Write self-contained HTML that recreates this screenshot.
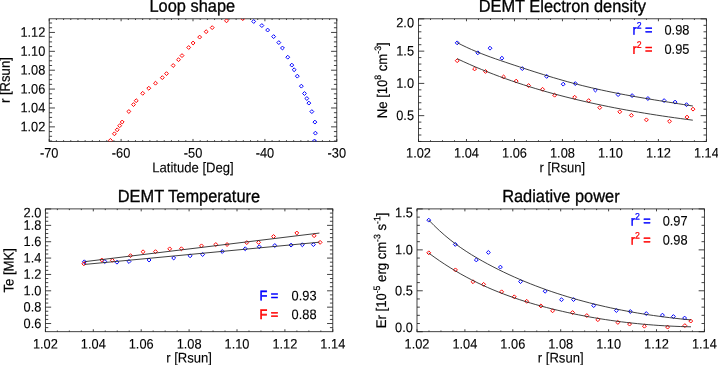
<!DOCTYPE html>
<html><head><meta charset="utf-8"><title>DEMT loop plots</title>
<style>
html,body{margin:0;padding:0;background:#fff;}
svg{display:block;font-family:"Liberation Sans", sans-serif;}
</style></head><body>
<svg width="718" height="365" viewBox="0 0 718 365">
<rect width="718" height="365" fill="#fff"/>
<g opacity="0.999">
<rect x="49.2" y="18.8" width="287.60" height="122.60" fill="none" stroke="#222" stroke-width="0.85"/><path d="M49.20 141.4v-2.45M49.20 18.8v2.45M121.10 141.4v-2.45M121.10 18.8v2.45M193.00 141.4v-2.45M193.00 18.8v2.45M264.90 141.4v-2.45M264.90 18.8v2.45M336.80 141.4v-2.45M336.80 18.8v2.45M56.39 141.4v-1.23M56.39 18.8v1.23M63.58 141.4v-1.23M63.58 18.8v1.23M70.77 141.4v-1.23M70.77 18.8v1.23M77.96 141.4v-1.23M77.96 18.8v1.23M85.15 141.4v-1.23M85.15 18.8v1.23M92.34 141.4v-1.23M92.34 18.8v1.23M99.53 141.4v-1.23M99.53 18.8v1.23M106.72 141.4v-1.23M106.72 18.8v1.23M113.91 141.4v-1.23M113.91 18.8v1.23M128.29 141.4v-1.23M128.29 18.8v1.23M135.48 141.4v-1.23M135.48 18.8v1.23M142.67 141.4v-1.23M142.67 18.8v1.23M149.86 141.4v-1.23M149.86 18.8v1.23M157.05 141.4v-1.23M157.05 18.8v1.23M164.24 141.4v-1.23M164.24 18.8v1.23M171.43 141.4v-1.23M171.43 18.8v1.23M178.62 141.4v-1.23M178.62 18.8v1.23M185.81 141.4v-1.23M185.81 18.8v1.23M200.19 141.4v-1.23M200.19 18.8v1.23M207.38 141.4v-1.23M207.38 18.8v1.23M214.57 141.4v-1.23M214.57 18.8v1.23M221.76 141.4v-1.23M221.76 18.8v1.23M228.95 141.4v-1.23M228.95 18.8v1.23M236.14 141.4v-1.23M236.14 18.8v1.23M243.33 141.4v-1.23M243.33 18.8v1.23M250.52 141.4v-1.23M250.52 18.8v1.23M257.71 141.4v-1.23M257.71 18.8v1.23M272.09 141.4v-1.23M272.09 18.8v1.23M279.28 141.4v-1.23M279.28 18.8v1.23M286.47 141.4v-1.23M286.47 18.8v1.23M293.66 141.4v-1.23M293.66 18.8v1.23M300.85 141.4v-1.23M300.85 18.8v1.23M308.04 141.4v-1.23M308.04 18.8v1.23M315.23 141.4v-1.23M315.23 18.8v1.23M322.42 141.4v-1.23M322.42 18.8v1.23M329.61 141.4v-1.23M329.61 18.8v1.23M49.2 126.85h5.75M336.8 126.85h-5.75M49.2 107.97h5.75M336.8 107.97h-5.75M49.2 89.09h5.75M336.8 89.09h-5.75M49.2 70.21h5.75M336.8 70.21h-5.75M49.2 51.33h5.75M336.8 51.33h-5.75M49.2 32.45h5.75M336.8 32.45h-5.75M49.2 141.01h2.88M336.8 141.01h-2.88M49.2 136.29h2.88M336.8 136.29h-2.88M49.2 131.57h2.88M336.8 131.57h-2.88M49.2 122.13h2.88M336.8 122.13h-2.88M49.2 117.41h2.88M336.8 117.41h-2.88M49.2 112.69h2.88M336.8 112.69h-2.88M49.2 103.25h2.88M336.8 103.25h-2.88M49.2 98.53h2.88M336.8 98.53h-2.88M49.2 93.81h2.88M336.8 93.81h-2.88M49.2 84.37h2.88M336.8 84.37h-2.88M49.2 79.65h2.88M336.8 79.65h-2.88M49.2 74.93h2.88M336.8 74.93h-2.88M49.2 65.49h2.88M336.8 65.49h-2.88M49.2 60.77h2.88M336.8 60.77h-2.88M49.2 56.05h2.88M336.8 56.05h-2.88M49.2 46.61h2.88M336.8 46.61h-2.88M49.2 41.89h2.88M336.8 41.89h-2.88M49.2 37.17h2.88M336.8 37.17h-2.88M49.2 27.73h2.88M336.8 27.73h-2.88M49.2 23.01h2.88M336.8 23.01h-2.88" stroke="#222" stroke-width="0.85" fill="none"/><clipPath id="c1"><rect x="49.2" y="18.8" width="287.60" height="122.60"/></clipPath>
<text transform="translate(49.20 157.60) rotate(0.03) scale(1 1.07)" font-size="12.8" text-anchor="middle" fill="#000" stroke="#000" stroke-width="0.12" >-70</text>
<text transform="translate(121.10 157.60) rotate(0.03) scale(1 1.07)" font-size="12.8" text-anchor="middle" fill="#000" stroke="#000" stroke-width="0.12" >-60</text>
<text transform="translate(193.00 157.60) rotate(0.03) scale(1 1.07)" font-size="12.8" text-anchor="middle" fill="#000" stroke="#000" stroke-width="0.12" >-50</text>
<text transform="translate(264.90 157.60) rotate(0.03) scale(1 1.07)" font-size="12.8" text-anchor="middle" fill="#000" stroke="#000" stroke-width="0.12" >-40</text>
<text transform="translate(336.80 157.60) rotate(0.03) scale(1 1.07)" font-size="12.8" text-anchor="middle" fill="#000" stroke="#000" stroke-width="0.12" >-30</text>
<text transform="translate(45.30 131.25) rotate(0.03) scale(1 1.07)" font-size="12.8" text-anchor="end" fill="#000" stroke="#000" stroke-width="0.12" >1.02</text>
<text transform="translate(45.30 112.37) rotate(0.03) scale(1 1.07)" font-size="12.8" text-anchor="end" fill="#000" stroke="#000" stroke-width="0.12" >1.04</text>
<text transform="translate(45.30 93.49) rotate(0.03) scale(1 1.07)" font-size="12.8" text-anchor="end" fill="#000" stroke="#000" stroke-width="0.12" >1.06</text>
<text transform="translate(45.30 74.61) rotate(0.03) scale(1 1.07)" font-size="12.8" text-anchor="end" fill="#000" stroke="#000" stroke-width="0.12" >1.08</text>
<text transform="translate(45.30 55.73) rotate(0.03) scale(1 1.07)" font-size="12.8" text-anchor="end" fill="#000" stroke="#000" stroke-width="0.12" >1.10</text>
<text transform="translate(45.30 36.85) rotate(0.03) scale(1 1.07)" font-size="12.8" text-anchor="end" fill="#000" stroke="#000" stroke-width="0.12" >1.12</text>
<text transform="translate(192.30 11.80) rotate(0.03) scale(1 1.07)" font-size="16.4" text-anchor="middle" fill="#000" stroke="#000" stroke-width="0.3" >Loop shape</text>
<text transform="translate(193.00 172.20) rotate(0.03) scale(1 1.07)" font-size="13.1" text-anchor="middle" fill="#000" stroke="#000" stroke-width="0.12" >Latitude [Deg]</text>
<text transform="translate(9.80 80.10) rotate(-89.97) scale(1 1.07)" font-size="13.1" text-anchor="middle" fill="#000" stroke="#000" stroke-width="0.2">r [Rsun]</text>
<g clip-path="url(#c1)"><path d="M108.45 140.40L110.40 138.45L112.35 140.40L110.40 142.35Z" fill="none" stroke="#ff0000" stroke-width="1.0"/><path d="M112.45 133.80L114.40 131.85L116.35 133.80L114.40 135.75Z" fill="none" stroke="#ff0000" stroke-width="1.0"/><path d="M115.25 129.80L117.20 127.85L119.15 129.80L117.20 131.75Z" fill="none" stroke="#ff0000" stroke-width="1.0"/><path d="M117.75 125.70L119.70 123.75L121.65 125.70L119.70 127.65Z" fill="none" stroke="#ff0000" stroke-width="1.0"/><path d="M120.25 122.00L122.20 120.05L124.15 122.00L122.20 123.95Z" fill="none" stroke="#ff0000" stroke-width="1.0"/><path d="M126.90 111.50L128.85 109.55L130.80 111.50L128.85 113.45Z" fill="none" stroke="#ff0000" stroke-width="1.0"/><path d="M131.55 104.60L133.50 102.65L135.45 104.60L133.50 106.55Z" fill="none" stroke="#ff0000" stroke-width="1.0"/><path d="M134.25 100.70L136.20 98.75L138.15 100.70L136.20 102.65Z" fill="none" stroke="#ff0000" stroke-width="1.0"/><path d="M140.75 93.30L142.70 91.35L144.65 93.30L142.70 95.25Z" fill="none" stroke="#ff0000" stroke-width="1.0"/><path d="M146.85 88.25L148.80 86.30L150.75 88.25L148.80 90.20Z" fill="none" stroke="#ff0000" stroke-width="1.0"/><path d="M153.55 83.20L155.50 81.25L157.45 83.20L155.50 85.15Z" fill="none" stroke="#ff0000" stroke-width="1.0"/><path d="M160.35 77.65L162.30 75.70L164.25 77.65L162.30 79.60Z" fill="none" stroke="#ff0000" stroke-width="1.0"/><path d="M164.55 73.65L166.50 71.70L168.45 73.65L166.50 75.60Z" fill="none" stroke="#ff0000" stroke-width="1.0"/><path d="M171.25 65.50L173.20 63.55L175.15 65.50L173.20 67.45Z" fill="none" stroke="#ff0000" stroke-width="1.0"/><path d="M176.55 59.70L178.50 57.75L180.45 59.70L178.50 61.65Z" fill="none" stroke="#ff0000" stroke-width="1.0"/><path d="M180.05 55.60L182.00 53.65L183.95 55.60L182.00 57.55Z" fill="none" stroke="#ff0000" stroke-width="1.0"/><path d="M186.75 47.50L188.70 45.55L190.65 47.50L188.70 49.45Z" fill="none" stroke="#ff0000" stroke-width="1.0"/><path d="M191.15 43.00L193.10 41.05L195.05 43.00L193.10 44.95Z" fill="none" stroke="#ff0000" stroke-width="1.0"/><path d="M197.70 37.10L199.65 35.15L201.60 37.10L199.65 39.05Z" fill="none" stroke="#ff0000" stroke-width="1.0"/><path d="M204.20 31.70L206.15 29.75L208.10 31.70L206.15 33.65Z" fill="none" stroke="#ff0000" stroke-width="1.0"/><path d="M210.25 27.65L212.20 25.70L214.15 27.65L212.20 29.60Z" fill="none" stroke="#ff0000" stroke-width="1.0"/><path d="M224.55 20.80L226.50 18.85L228.45 20.80L226.50 22.75Z" fill="none" stroke="#ff0000" stroke-width="1.0"/><path d="M240.80 18.65L242.75 16.70L244.70 18.65L242.75 20.60Z" fill="none" stroke="#ff0000" stroke-width="1.0"/><path d="M251.75 21.50L253.70 19.55L255.65 21.50L253.70 23.45Z" fill="none" stroke="#0000ff" stroke-width="1.0"/><path d="M259.90 25.55L261.85 23.60L263.80 25.55L261.85 27.50Z" fill="none" stroke="#0000ff" stroke-width="1.0"/><path d="M265.70 30.05L267.65 28.10L269.60 30.05L267.65 32.00Z" fill="none" stroke="#0000ff" stroke-width="1.0"/><path d="M271.70 36.60L273.65 34.65L275.60 36.60L273.65 38.55Z" fill="none" stroke="#0000ff" stroke-width="1.0"/><path d="M276.85 42.60L278.80 40.65L280.75 42.60L278.80 44.55Z" fill="none" stroke="#0000ff" stroke-width="1.0"/><path d="M280.50 48.00L282.45 46.05L284.40 48.00L282.45 49.95Z" fill="none" stroke="#0000ff" stroke-width="1.0"/><path d="M285.80 57.20L287.75 55.25L289.70 57.20L287.75 59.15Z" fill="none" stroke="#0000ff" stroke-width="1.0"/><path d="M289.85 65.10L291.80 63.15L293.75 65.10L291.80 67.05Z" fill="none" stroke="#0000ff" stroke-width="1.0"/><path d="M292.20 69.75L294.15 67.80L296.10 69.75L294.15 71.70Z" fill="none" stroke="#0000ff" stroke-width="1.0"/><path d="M295.35 76.15L297.30 74.20L299.25 76.15L297.30 78.10Z" fill="none" stroke="#0000ff" stroke-width="1.0"/><path d="M299.40 86.15L301.35 84.20L303.30 86.15L301.35 88.10Z" fill="none" stroke="#0000ff" stroke-width="1.0"/><path d="M302.50 93.50L304.45 91.55L306.40 93.50L304.45 95.45Z" fill="none" stroke="#0000ff" stroke-width="1.0"/><path d="M304.90 98.50L306.85 96.55L308.80 98.50L306.85 100.45Z" fill="none" stroke="#0000ff" stroke-width="1.0"/><path d="M306.90 103.10L308.85 101.15L310.80 103.10L308.85 105.05Z" fill="none" stroke="#0000ff" stroke-width="1.0"/><path d="M309.90 111.60L311.85 109.65L313.80 111.60L311.85 113.55Z" fill="none" stroke="#0000ff" stroke-width="1.0"/><path d="M312.95 122.10L314.90 120.15L316.85 122.10L314.90 124.05Z" fill="none" stroke="#0000ff" stroke-width="1.0"/><path d="M313.45 133.15L315.40 131.20L317.35 133.15L315.40 135.10Z" fill="none" stroke="#0000ff" stroke-width="1.0"/><path d="M312.55 141.00L314.50 139.05L316.45 141.00L314.50 142.95Z" fill="none" stroke="#0000ff" stroke-width="1.0"/></g>
<rect x="418.5" y="18.8" width="287.90" height="122.65" fill="none" stroke="#222" stroke-width="0.85"/><path d="M418.50 141.45v-2.45M418.50 18.8v2.45M466.48 141.45v-2.45M466.48 18.8v2.45M514.47 141.45v-2.45M514.47 18.8v2.45M562.45 141.45v-2.45M562.45 18.8v2.45M610.43 141.45v-2.45M610.43 18.8v2.45M658.42 141.45v-2.45M658.42 18.8v2.45M706.40 141.45v-2.45M706.40 18.8v2.45M430.50 141.45v-1.23M430.50 18.8v1.23M442.49 141.45v-1.23M442.49 18.8v1.23M454.49 141.45v-1.23M454.49 18.8v1.23M478.48 141.45v-1.23M478.48 18.8v1.23M490.48 141.45v-1.23M490.48 18.8v1.23M502.47 141.45v-1.23M502.47 18.8v1.23M526.46 141.45v-1.23M526.46 18.8v1.23M538.46 141.45v-1.23M538.46 18.8v1.23M550.45 141.45v-1.23M550.45 18.8v1.23M574.45 141.45v-1.23M574.45 18.8v1.23M586.44 141.45v-1.23M586.44 18.8v1.23M598.44 141.45v-1.23M598.44 18.8v1.23M622.43 141.45v-1.23M622.43 18.8v1.23M634.43 141.45v-1.23M634.43 18.8v1.23M646.42 141.45v-1.23M646.42 18.8v1.23M670.41 141.45v-1.23M670.41 18.8v1.23M682.41 141.45v-1.23M682.41 18.8v1.23M694.40 141.45v-1.23M694.40 18.8v1.23M418.5 115.65h5.76M706.4 115.65h-5.76M418.5 83.40h5.76M706.4 83.40h-5.76M418.5 51.15h5.76M706.4 51.15h-5.76M418.5 18.90h5.76M706.4 18.90h-5.76M418.5 141.45h2.88M706.4 141.45h-2.88M418.5 135.00h2.88M706.4 135.00h-2.88M418.5 128.55h2.88M706.4 128.55h-2.88M418.5 122.10h2.88M706.4 122.10h-2.88M418.5 109.20h2.88M706.4 109.20h-2.88M418.5 102.75h2.88M706.4 102.75h-2.88M418.5 96.30h2.88M706.4 96.30h-2.88M418.5 89.85h2.88M706.4 89.85h-2.88M418.5 76.95h2.88M706.4 76.95h-2.88M418.5 70.50h2.88M706.4 70.50h-2.88M418.5 64.05h2.88M706.4 64.05h-2.88M418.5 57.60h2.88M706.4 57.60h-2.88M418.5 44.70h2.88M706.4 44.70h-2.88M418.5 38.25h2.88M706.4 38.25h-2.88M418.5 31.80h2.88M706.4 31.80h-2.88M418.5 25.35h2.88M706.4 25.35h-2.88" stroke="#222" stroke-width="0.85" fill="none"/><clipPath id="c2"><rect x="418.5" y="18.8" width="287.90" height="122.65"/></clipPath>
<text transform="translate(418.50 157.60) rotate(0.03) scale(1 1.07)" font-size="12.8" text-anchor="middle" fill="#000" stroke="#000" stroke-width="0.12" >1.02</text>
<text transform="translate(466.48 157.60) rotate(0.03) scale(1 1.07)" font-size="12.8" text-anchor="middle" fill="#000" stroke="#000" stroke-width="0.12" >1.04</text>
<text transform="translate(514.47 157.60) rotate(0.03) scale(1 1.07)" font-size="12.8" text-anchor="middle" fill="#000" stroke="#000" stroke-width="0.12" >1.06</text>
<text transform="translate(562.45 157.60) rotate(0.03) scale(1 1.07)" font-size="12.8" text-anchor="middle" fill="#000" stroke="#000" stroke-width="0.12" >1.08</text>
<text transform="translate(610.43 157.60) rotate(0.03) scale(1 1.07)" font-size="12.8" text-anchor="middle" fill="#000" stroke="#000" stroke-width="0.12" >1.10</text>
<text transform="translate(658.42 157.60) rotate(0.03) scale(1 1.07)" font-size="12.8" text-anchor="middle" fill="#000" stroke="#000" stroke-width="0.12" >1.12</text>
<text transform="translate(706.40 157.60) rotate(0.03) scale(1 1.07)" font-size="12.8" text-anchor="middle" fill="#000" stroke="#000" stroke-width="0.12" >1.14</text>
<text transform="translate(414.00 120.05) rotate(0.03) scale(1 1.07)" font-size="12.8" text-anchor="end" fill="#000" stroke="#000" stroke-width="0.12" >0.5</text>
<text transform="translate(414.00 87.80) rotate(0.03) scale(1 1.07)" font-size="12.8" text-anchor="end" fill="#000" stroke="#000" stroke-width="0.12" >1.0</text>
<text transform="translate(414.00 55.55) rotate(0.03) scale(1 1.07)" font-size="12.8" text-anchor="end" fill="#000" stroke="#000" stroke-width="0.12" >1.5</text>
<text transform="translate(414.00 27.20) rotate(0.03) scale(1 1.07)" font-size="12.8" text-anchor="end" fill="#000" stroke="#000" stroke-width="0.12" >2.0</text>
<text transform="translate(562.30 11.90) rotate(0.03) scale(1 1.07)" font-size="16.4" text-anchor="middle" fill="#000" stroke="#000" stroke-width="0.3" >DEMT Electron density</text>
<text transform="translate(562.30 172.20) rotate(0.03) scale(1 1.07)" font-size="13.1" text-anchor="middle" fill="#000" stroke="#000" stroke-width="0.12" >r [Rsun]</text>
<text transform="translate(387.0 80.3) rotate(-89.97) scale(1 1.07)" font-size="13.1" text-anchor="middle" fill="#000" stroke="#000" stroke-width="0.2">Ne [10<tspan dy="-5.6" font-size="8.7">8</tspan><tspan dy="5.6"> cm</tspan><tspan dy="-5.6" font-size="8.7">-3</tspan><tspan dy="5.6">]</tspan></text>
<g clip-path="url(#c2)"><path d="M455.25 42.85L457.20 40.90L459.15 42.85L457.20 44.80Z" fill="none" stroke="#0000ff" stroke-width="1.0"/><path d="M475.85 52.80L477.80 50.85L479.75 52.80L477.80 54.75Z" fill="none" stroke="#0000ff" stroke-width="1.0"/><path d="M488.05 48.20L490.00 46.25L491.95 48.20L490.00 50.15Z" fill="none" stroke="#0000ff" stroke-width="1.0"/><path d="M499.95 58.20L501.90 56.25L503.85 58.20L501.90 60.15Z" fill="none" stroke="#0000ff" stroke-width="1.0"/><path d="M520.35 68.60L522.30 66.65L524.25 68.60L522.30 70.55Z" fill="none" stroke="#0000ff" stroke-width="1.0"/><path d="M544.75 76.40L546.70 74.45L548.65 76.40L546.70 78.35Z" fill="none" stroke="#0000ff" stroke-width="1.0"/><path d="M561.25 84.15L563.20 82.20L565.15 84.15L563.20 86.10Z" fill="none" stroke="#0000ff" stroke-width="1.0"/><path d="M573.35 83.60L575.30 81.65L577.25 83.60L575.30 85.55Z" fill="none" stroke="#0000ff" stroke-width="1.0"/><path d="M593.45 90.00L595.40 88.05L597.35 90.00L595.40 91.95Z" fill="none" stroke="#0000ff" stroke-width="1.0"/><path d="M616.15 94.60L618.10 92.65L620.05 94.60L618.10 96.55Z" fill="none" stroke="#0000ff" stroke-width="1.0"/><path d="M630.15 95.60L632.10 93.65L634.05 95.60L632.10 97.55Z" fill="none" stroke="#0000ff" stroke-width="1.0"/><path d="M645.95 98.50L647.90 96.55L649.85 98.50L647.90 100.45Z" fill="none" stroke="#0000ff" stroke-width="1.0"/><path d="M662.15 100.60L664.10 98.65L666.05 100.60L664.10 102.55Z" fill="none" stroke="#0000ff" stroke-width="1.0"/><path d="M673.10 102.10L675.05 100.15L677.00 102.10L675.05 104.05Z" fill="none" stroke="#0000ff" stroke-width="1.0"/><path d="M684.55 104.65L686.50 102.70L688.45 104.65L686.50 106.60Z" fill="none" stroke="#0000ff" stroke-width="1.0"/><path d="M455.25 60.70L457.20 58.75L459.15 60.70L457.20 62.65Z" fill="none" stroke="#ff0000" stroke-width="1.0"/><path d="M472.65 68.95L474.60 67.00L476.55 68.95L474.60 70.90Z" fill="none" stroke="#ff0000" stroke-width="1.0"/><path d="M483.55 71.45L485.50 69.50L487.45 71.45L485.50 73.40Z" fill="none" stroke="#ff0000" stroke-width="1.0"/><path d="M501.65 76.95L503.60 75.00L505.55 76.95L503.60 78.90Z" fill="none" stroke="#ff0000" stroke-width="1.0"/><path d="M514.25 81.10L516.20 79.15L518.15 81.10L516.20 83.05Z" fill="none" stroke="#ff0000" stroke-width="1.0"/><path d="M526.65 85.55L528.60 83.60L530.55 85.55L528.60 87.50Z" fill="none" stroke="#ff0000" stroke-width="1.0"/><path d="M540.60 89.30L542.55 87.35L544.50 89.30L542.55 91.25Z" fill="none" stroke="#ff0000" stroke-width="1.0"/><path d="M552.65 95.20L554.60 93.25L556.55 95.20L554.60 97.15Z" fill="none" stroke="#ff0000" stroke-width="1.0"/><path d="M572.70 97.25L574.65 95.30L576.60 97.25L574.65 99.20Z" fill="none" stroke="#ff0000" stroke-width="1.0"/><path d="M586.75 100.60L588.70 98.65L590.65 100.60L588.70 102.55Z" fill="none" stroke="#ff0000" stroke-width="1.0"/><path d="M597.80 107.65L599.75 105.70L601.70 107.65L599.75 109.60Z" fill="none" stroke="#ff0000" stroke-width="1.0"/><path d="M617.80 111.80L619.75 109.85L621.70 111.80L619.75 113.75Z" fill="none" stroke="#ff0000" stroke-width="1.0"/><path d="M629.45 115.30L631.40 113.35L633.35 115.30L631.40 117.25Z" fill="none" stroke="#ff0000" stroke-width="1.0"/><path d="M644.45 119.85L646.40 117.90L648.35 119.85L646.40 121.80Z" fill="none" stroke="#ff0000" stroke-width="1.0"/><path d="M667.55 121.25L669.50 119.30L671.45 121.25L669.50 123.20Z" fill="none" stroke="#ff0000" stroke-width="1.0"/><path d="M685.05 117.10L687.00 115.15L688.95 117.10L687.00 119.05Z" fill="none" stroke="#ff0000" stroke-width="1.0"/><path d="M691.05 109.15L693.00 107.20L694.95 109.15L693.00 111.10Z" fill="none" stroke="#ff0000" stroke-width="1.0"/></g>
<path d="M457.10 42.59L461.91 45.05L466.72 47.36L471.54 49.54L476.35 51.59L481.16 53.53L485.97 55.38L490.79 57.16L495.60 58.87L500.41 60.53L505.22 62.15L510.03 63.76L514.85 65.36L519.66 66.95L524.47 68.53L529.28 70.10L534.10 71.65L538.91 73.18L543.72 74.68L548.53 76.16L553.34 77.61L558.16 79.03L562.97 80.42L567.78 81.77L572.59 83.07L577.41 84.34L582.22 85.56L587.03 86.73L591.84 87.87L596.66 88.96L601.47 90.03L606.28 91.05L611.09 92.05L615.90 93.01L620.72 93.95L625.53 94.86L630.34 95.74L635.15 96.61L639.97 97.45L644.78 98.28L649.59 99.09L654.40 99.89L659.21 100.67L664.03 101.45L668.84 102.21L673.65 102.98L678.46 103.74L683.28 104.50L688.09 105.25L692.90 106.02" fill="none" stroke="#262626" stroke-width="0.88" clip-path="url(#c2)"/>
<path d="M457.20 58.73L463.24 61.54L469.28 64.26L475.32 66.88L481.36 69.41L487.41 71.85L493.45 74.21L499.49 76.49L505.53 78.69L511.57 80.81L517.61 82.86L523.65 84.84L529.69 86.76L535.73 88.61L541.77 90.40L547.82 92.13L553.86 93.80L559.90 95.41L565.94 96.97L571.98 98.48L578.02 99.94L584.06 101.35L590.10 102.71L596.14 104.03L602.18 105.31L608.23 106.54L614.27 107.74L620.31 108.89L626.35 110.01L632.39 111.09L638.43 112.14L644.47 113.15L650.51 114.13L656.55 115.08L662.59 116.00L668.64 116.89L674.68 117.75L680.72 118.59L686.76 119.40L692.80 120.18" fill="none" stroke="#262626" stroke-width="0.88" clip-path="url(#c2)"/>
<text transform="translate(632.50 34.60) rotate(0.03) scale(1 1.07)" font-size="12.8" text-anchor="start" fill="#0000ff" stroke="#0000ff" stroke-width="0.35" >r</text><text transform="translate(636.80 28.60) rotate(0.03) scale(1 1.07)" font-size="8.7" text-anchor="start" fill="#0000ff" stroke="#0000ff" stroke-width="0.25" >2</text><text transform="translate(645.00 34.60) rotate(0.03) scale(1 1.07)" font-size="12.8" text-anchor="start" fill="#0000ff" stroke="#0000ff" stroke-width="0.35" >=</text><text transform="translate(664.50 34.60) rotate(0.03) scale(1 1.07)" font-size="12.8" text-anchor="start" fill="#000" stroke="#000" stroke-width="0.12" >0.98</text>
<text transform="translate(632.50 53.70) rotate(0.03) scale(1 1.07)" font-size="12.8" text-anchor="start" fill="#ff0000" stroke="#ff0000" stroke-width="0.35" >r</text><text transform="translate(636.80 47.70) rotate(0.03) scale(1 1.07)" font-size="8.7" text-anchor="start" fill="#ff0000" stroke="#ff0000" stroke-width="0.25" >2</text><text transform="translate(645.00 53.70) rotate(0.03) scale(1 1.07)" font-size="12.8" text-anchor="start" fill="#ff0000" stroke="#ff0000" stroke-width="0.35" >=</text><text transform="translate(664.50 53.70) rotate(0.03) scale(1 1.07)" font-size="12.8" text-anchor="start" fill="#000" stroke="#000" stroke-width="0.12" >0.95</text>
<rect x="45.4" y="208.9" width="287.40" height="122.80" fill="none" stroke="#222" stroke-width="0.85"/><path d="M45.40 331.7v-2.46M45.40 208.9v2.46M93.30 331.7v-2.46M93.30 208.9v2.46M141.20 331.7v-2.46M141.20 208.9v2.46M189.10 331.7v-2.46M189.10 208.9v2.46M237.00 331.7v-2.46M237.00 208.9v2.46M284.90 331.7v-2.46M284.90 208.9v2.46M332.80 331.7v-2.46M332.80 208.9v2.46M57.37 331.7v-1.23M57.37 208.9v1.23M69.35 331.7v-1.23M69.35 208.9v1.23M81.32 331.7v-1.23M81.32 208.9v1.23M105.27 331.7v-1.23M105.27 208.9v1.23M117.25 331.7v-1.23M117.25 208.9v1.23M129.22 331.7v-1.23M129.22 208.9v1.23M153.17 331.7v-1.23M153.17 208.9v1.23M165.15 331.7v-1.23M165.15 208.9v1.23M177.12 331.7v-1.23M177.12 208.9v1.23M201.07 331.7v-1.23M201.07 208.9v1.23M213.05 331.7v-1.23M213.05 208.9v1.23M225.02 331.7v-1.23M225.02 208.9v1.23M248.97 331.7v-1.23M248.97 208.9v1.23M260.95 331.7v-1.23M260.95 208.9v1.23M272.92 331.7v-1.23M272.92 208.9v1.23M296.88 331.7v-1.23M296.88 208.9v1.23M308.85 331.7v-1.23M308.85 208.9v1.23M320.82 331.7v-1.23M320.82 208.9v1.23M45.4 323.52h5.75M332.8 323.52h-5.75M45.4 307.16h5.75M332.8 307.16h-5.75M45.4 290.80h5.75M332.8 290.80h-5.75M45.4 274.44h5.75M332.8 274.44h-5.75M45.4 258.08h5.75M332.8 258.08h-5.75M45.4 241.72h5.75M332.8 241.72h-5.75M45.4 225.36h5.75M332.8 225.36h-5.75M45.4 209.00h5.75M332.8 209.00h-5.75M45.4 327.61h2.87M332.8 327.61h-2.87M45.4 319.43h2.87M332.8 319.43h-2.87M45.4 315.34h2.87M332.8 315.34h-2.87M45.4 311.25h2.87M332.8 311.25h-2.87M45.4 303.07h2.87M332.8 303.07h-2.87M45.4 298.98h2.87M332.8 298.98h-2.87M45.4 294.89h2.87M332.8 294.89h-2.87M45.4 286.71h2.87M332.8 286.71h-2.87M45.4 282.62h2.87M332.8 282.62h-2.87M45.4 278.53h2.87M332.8 278.53h-2.87M45.4 270.35h2.87M332.8 270.35h-2.87M45.4 266.26h2.87M332.8 266.26h-2.87M45.4 262.17h2.87M332.8 262.17h-2.87M45.4 253.99h2.87M332.8 253.99h-2.87M45.4 249.90h2.87M332.8 249.90h-2.87M45.4 245.81h2.87M332.8 245.81h-2.87M45.4 237.63h2.87M332.8 237.63h-2.87M45.4 233.54h2.87M332.8 233.54h-2.87M45.4 229.45h2.87M332.8 229.45h-2.87M45.4 221.27h2.87M332.8 221.27h-2.87M45.4 217.18h2.87M332.8 217.18h-2.87M45.4 213.09h2.87M332.8 213.09h-2.87" stroke="#222" stroke-width="0.85" fill="none"/><clipPath id="c3"><rect x="45.4" y="208.9" width="287.40" height="122.80"/></clipPath>
<text transform="translate(45.40 348.40) rotate(0.03) scale(1 1.07)" font-size="12.8" text-anchor="middle" fill="#000" stroke="#000" stroke-width="0.12" >1.02</text>
<text transform="translate(93.30 348.40) rotate(0.03) scale(1 1.07)" font-size="12.8" text-anchor="middle" fill="#000" stroke="#000" stroke-width="0.12" >1.04</text>
<text transform="translate(141.20 348.40) rotate(0.03) scale(1 1.07)" font-size="12.8" text-anchor="middle" fill="#000" stroke="#000" stroke-width="0.12" >1.06</text>
<text transform="translate(189.10 348.40) rotate(0.03) scale(1 1.07)" font-size="12.8" text-anchor="middle" fill="#000" stroke="#000" stroke-width="0.12" >1.08</text>
<text transform="translate(237.00 348.40) rotate(0.03) scale(1 1.07)" font-size="12.8" text-anchor="middle" fill="#000" stroke="#000" stroke-width="0.12" >1.10</text>
<text transform="translate(284.90 348.40) rotate(0.03) scale(1 1.07)" font-size="12.8" text-anchor="middle" fill="#000" stroke="#000" stroke-width="0.12" >1.12</text>
<text transform="translate(332.80 348.40) rotate(0.03) scale(1 1.07)" font-size="12.8" text-anchor="middle" fill="#000" stroke="#000" stroke-width="0.12" >1.14</text>
<text transform="translate(41.30 327.92) rotate(0.03) scale(1 1.07)" font-size="12.8" text-anchor="end" fill="#000" stroke="#000" stroke-width="0.12" >0.6</text>
<text transform="translate(41.30 311.56) rotate(0.03) scale(1 1.07)" font-size="12.8" text-anchor="end" fill="#000" stroke="#000" stroke-width="0.12" >0.8</text>
<text transform="translate(41.30 295.20) rotate(0.03) scale(1 1.07)" font-size="12.8" text-anchor="end" fill="#000" stroke="#000" stroke-width="0.12" >1.0</text>
<text transform="translate(41.30 278.84) rotate(0.03) scale(1 1.07)" font-size="12.8" text-anchor="end" fill="#000" stroke="#000" stroke-width="0.12" >1.2</text>
<text transform="translate(41.30 262.48) rotate(0.03) scale(1 1.07)" font-size="12.8" text-anchor="end" fill="#000" stroke="#000" stroke-width="0.12" >1.4</text>
<text transform="translate(41.30 246.12) rotate(0.03) scale(1 1.07)" font-size="12.8" text-anchor="end" fill="#000" stroke="#000" stroke-width="0.12" >1.6</text>
<text transform="translate(41.30 229.76) rotate(0.03) scale(1 1.07)" font-size="12.8" text-anchor="end" fill="#000" stroke="#000" stroke-width="0.12" >1.8</text>
<text transform="translate(41.30 217.20) rotate(0.03) scale(1 1.07)" font-size="12.8" text-anchor="end" fill="#000" stroke="#000" stroke-width="0.12" >2.0</text>
<text transform="translate(188.90 202.10) rotate(0.03) scale(1 1.07)" font-size="16.4" text-anchor="middle" fill="#000" stroke="#000" stroke-width="0.3" >DEMT Temperature</text>
<text transform="translate(189.10 362.60) rotate(0.03) scale(1 1.07)" font-size="13.1" text-anchor="middle" fill="#000" stroke="#000" stroke-width="0.12" >r [Rsun]</text>
<text transform="translate(13.40 270.30) rotate(-89.97) scale(1 1.07)" font-size="13.1" text-anchor="middle" fill="#000" stroke="#000" stroke-width="0.2">Te [MK]</text>
<g clip-path="url(#c3)"><path d="M82.40 261.80L84.35 259.85L86.30 261.80L84.35 263.75Z" fill="none" stroke="#0000ff" stroke-width="1.0"/><path d="M102.90 261.50L104.85 259.55L106.80 261.50L104.85 263.45Z" fill="none" stroke="#0000ff" stroke-width="1.0"/><path d="M115.00 262.20L116.95 260.25L118.90 262.20L116.95 264.15Z" fill="none" stroke="#0000ff" stroke-width="1.0"/><path d="M127.05 261.50L129.00 259.55L130.95 261.50L129.00 263.45Z" fill="none" stroke="#0000ff" stroke-width="1.0"/><path d="M147.10 260.00L149.05 258.05L151.00 260.00L149.05 261.95Z" fill="none" stroke="#0000ff" stroke-width="1.0"/><path d="M171.75 258.00L173.70 256.05L175.65 258.00L173.70 259.95Z" fill="none" stroke="#0000ff" stroke-width="1.0"/><path d="M188.15 255.80L190.10 253.85L192.05 255.80L190.10 257.75Z" fill="none" stroke="#0000ff" stroke-width="1.0"/><path d="M200.70 254.50L202.65 252.55L204.60 254.50L202.65 256.45Z" fill="none" stroke="#0000ff" stroke-width="1.0"/><path d="M220.30 251.50L222.25 249.55L224.20 251.50L222.25 253.45Z" fill="none" stroke="#0000ff" stroke-width="1.0"/><path d="M243.30 248.75L245.25 246.80L247.20 248.75L245.25 250.70Z" fill="none" stroke="#0000ff" stroke-width="1.0"/><path d="M257.30 246.80L259.25 244.85L261.20 246.80L259.25 248.75Z" fill="none" stroke="#0000ff" stroke-width="1.0"/><path d="M272.85 245.50L274.80 243.55L276.75 245.50L274.80 247.45Z" fill="none" stroke="#0000ff" stroke-width="1.0"/><path d="M289.10 245.10L291.05 243.15L293.00 245.10L291.05 247.05Z" fill="none" stroke="#0000ff" stroke-width="1.0"/><path d="M300.40 244.75L302.35 242.80L304.30 244.75L302.35 246.70Z" fill="none" stroke="#0000ff" stroke-width="1.0"/><path d="M311.45 244.60L313.40 242.65L315.35 244.60L313.40 246.55Z" fill="none" stroke="#0000ff" stroke-width="1.0"/><path d="M81.90 263.80L83.85 261.85L85.80 263.80L83.85 265.75Z" fill="none" stroke="#ff0000" stroke-width="1.0"/><path d="M99.85 260.00L101.80 258.05L103.75 260.00L101.80 261.95Z" fill="none" stroke="#ff0000" stroke-width="1.0"/><path d="M110.40 260.30L112.35 258.35L114.30 260.30L112.35 262.25Z" fill="none" stroke="#ff0000" stroke-width="1.0"/><path d="M128.55 255.65L130.50 253.70L132.45 255.65L130.50 257.60Z" fill="none" stroke="#ff0000" stroke-width="1.0"/><path d="M141.10 251.75L143.05 249.80L145.00 251.75L143.05 253.70Z" fill="none" stroke="#ff0000" stroke-width="1.0"/><path d="M153.55 251.65L155.50 249.70L157.45 251.65L155.50 253.60Z" fill="none" stroke="#ff0000" stroke-width="1.0"/><path d="M167.75 248.85L169.70 246.90L171.65 248.85L169.70 250.80Z" fill="none" stroke="#ff0000" stroke-width="1.0"/><path d="M179.45 248.75L181.40 246.80L183.35 248.75L181.40 250.70Z" fill="none" stroke="#ff0000" stroke-width="1.0"/><path d="M199.55 245.85L201.50 243.90L203.45 245.85L201.50 247.80Z" fill="none" stroke="#ff0000" stroke-width="1.0"/><path d="M213.85 244.50L215.80 242.55L217.75 244.50L215.80 246.45Z" fill="none" stroke="#ff0000" stroke-width="1.0"/><path d="M225.10 244.50L227.05 242.55L229.00 244.50L227.05 246.45Z" fill="none" stroke="#ff0000" stroke-width="1.0"/><path d="M244.80 242.60L246.75 240.65L248.70 242.60L246.75 244.55Z" fill="none" stroke="#ff0000" stroke-width="1.0"/><path d="M256.65 242.40L258.60 240.45L260.55 242.40L258.60 244.35Z" fill="none" stroke="#ff0000" stroke-width="1.0"/><path d="M271.60 236.50L273.55 234.55L275.50 236.50L273.55 238.45Z" fill="none" stroke="#ff0000" stroke-width="1.0"/><path d="M294.85 233.00L296.80 231.05L298.75 233.00L296.80 234.95Z" fill="none" stroke="#ff0000" stroke-width="1.0"/><path d="M312.20 235.70L314.15 233.75L316.10 235.70L314.15 237.65Z" fill="none" stroke="#ff0000" stroke-width="1.0"/><path d="M318.15 242.35L320.10 240.40L322.05 242.35L320.10 244.30Z" fill="none" stroke="#ff0000" stroke-width="1.0"/></g>
<path d="M84.4 261.7L319.4 233.05" fill="none" stroke="#262626" stroke-width="0.88" clip-path="url(#c3)"/>
<path d="M84.4 264.45L319.4 242.2" fill="none" stroke="#262626" stroke-width="0.88" clip-path="url(#c3)"/>
<text transform="translate(259.50 300.20) rotate(0.03) scale(1 1.07)" font-size="12.8" text-anchor="start" fill="#0000ff" stroke="#0000ff" stroke-width="0.5" >F =</text><text transform="translate(291.60 300.20) rotate(0.03) scale(1 1.07)" font-size="12.8" text-anchor="start" fill="#000" stroke="#000" stroke-width="0.12" >0.93</text>
<text transform="translate(259.50 319.00) rotate(0.03) scale(1 1.07)" font-size="12.8" text-anchor="start" fill="#ff0000" stroke="#ff0000" stroke-width="0.5" >F =</text><text transform="translate(291.60 319.00) rotate(0.03) scale(1 1.07)" font-size="12.8" text-anchor="start" fill="#000" stroke="#000" stroke-width="0.12" >0.88</text>
<rect x="417.0" y="208.9" width="287.40" height="122.80" fill="none" stroke="#222" stroke-width="0.85"/><path d="M417.00 331.7v-2.46M417.00 208.9v2.46M464.90 331.7v-2.46M464.90 208.9v2.46M512.80 331.7v-2.46M512.80 208.9v2.46M560.70 331.7v-2.46M560.70 208.9v2.46M608.60 331.7v-2.46M608.60 208.9v2.46M656.50 331.7v-2.46M656.50 208.9v2.46M704.40 331.7v-2.46M704.40 208.9v2.46M428.97 331.7v-1.23M428.97 208.9v1.23M440.95 331.7v-1.23M440.95 208.9v1.23M452.92 331.7v-1.23M452.92 208.9v1.23M476.87 331.7v-1.23M476.87 208.9v1.23M488.85 331.7v-1.23M488.85 208.9v1.23M500.82 331.7v-1.23M500.82 208.9v1.23M524.77 331.7v-1.23M524.77 208.9v1.23M536.75 331.7v-1.23M536.75 208.9v1.23M548.72 331.7v-1.23M548.72 208.9v1.23M572.67 331.7v-1.23M572.67 208.9v1.23M584.65 331.7v-1.23M584.65 208.9v1.23M596.62 331.7v-1.23M596.62 208.9v1.23M620.57 331.7v-1.23M620.57 208.9v1.23M632.55 331.7v-1.23M632.55 208.9v1.23M644.52 331.7v-1.23M644.52 208.9v1.23M668.47 331.7v-1.23M668.47 208.9v1.23M680.45 331.7v-1.23M680.45 208.9v1.23M692.42 331.7v-1.23M692.42 208.9v1.23M417.0 331.69h5.75M704.4 331.69h-5.75M417.0 290.78h5.75M704.4 290.78h-5.75M417.0 249.86h5.75M704.4 249.86h-5.75M417.0 208.95h5.75M704.4 208.95h-5.75M417.0 323.51h2.87M704.4 323.51h-2.87M417.0 315.33h2.87M704.4 315.33h-2.87M417.0 307.15h2.87M704.4 307.15h-2.87M417.0 298.96h2.87M704.4 298.96h-2.87M417.0 282.60h2.87M704.4 282.60h-2.87M417.0 274.41h2.87M704.4 274.41h-2.87M417.0 266.23h2.87M704.4 266.23h-2.87M417.0 258.05h2.87M704.4 258.05h-2.87M417.0 241.68h2.87M704.4 241.68h-2.87M417.0 233.50h2.87M704.4 233.50h-2.87M417.0 225.32h2.87M704.4 225.32h-2.87M417.0 217.13h2.87M704.4 217.13h-2.87" stroke="#222" stroke-width="0.85" fill="none"/><clipPath id="c4"><rect x="417.0" y="208.9" width="287.40" height="122.80"/></clipPath>
<text transform="translate(417.00 348.40) rotate(0.03) scale(1 1.07)" font-size="12.8" text-anchor="middle" fill="#000" stroke="#000" stroke-width="0.12" >1.02</text>
<text transform="translate(464.90 348.40) rotate(0.03) scale(1 1.07)" font-size="12.8" text-anchor="middle" fill="#000" stroke="#000" stroke-width="0.12" >1.04</text>
<text transform="translate(512.80 348.40) rotate(0.03) scale(1 1.07)" font-size="12.8" text-anchor="middle" fill="#000" stroke="#000" stroke-width="0.12" >1.06</text>
<text transform="translate(560.70 348.40) rotate(0.03) scale(1 1.07)" font-size="12.8" text-anchor="middle" fill="#000" stroke="#000" stroke-width="0.12" >1.08</text>
<text transform="translate(608.60 348.40) rotate(0.03) scale(1 1.07)" font-size="12.8" text-anchor="middle" fill="#000" stroke="#000" stroke-width="0.12" >1.10</text>
<text transform="translate(656.50 348.40) rotate(0.03) scale(1 1.07)" font-size="12.8" text-anchor="middle" fill="#000" stroke="#000" stroke-width="0.12" >1.12</text>
<text transform="translate(704.40 348.40) rotate(0.03) scale(1 1.07)" font-size="12.8" text-anchor="middle" fill="#000" stroke="#000" stroke-width="0.12" >1.14</text>
<text transform="translate(412.80 331.90) rotate(0.03) scale(1 1.07)" font-size="12.8" text-anchor="end" fill="#000" stroke="#000" stroke-width="0.12" >0.0</text>
<text transform="translate(412.80 295.18) rotate(0.03) scale(1 1.07)" font-size="12.8" text-anchor="end" fill="#000" stroke="#000" stroke-width="0.12" >0.5</text>
<text transform="translate(412.80 254.26) rotate(0.03) scale(1 1.07)" font-size="12.8" text-anchor="end" fill="#000" stroke="#000" stroke-width="0.12" >1.0</text>
<text transform="translate(412.80 217.20) rotate(0.03) scale(1 1.07)" font-size="12.8" text-anchor="end" fill="#000" stroke="#000" stroke-width="0.12" >1.5</text>
<text transform="translate(560.90 202.10) rotate(0.03) scale(1 1.07)" font-size="16.4" text-anchor="middle" fill="#000" stroke="#000" stroke-width="0.3" >Radiative power</text>
<text transform="translate(560.70 362.60) rotate(0.03) scale(1 1.07)" font-size="13.1" text-anchor="middle" fill="#000" stroke="#000" stroke-width="0.12" >r [Rsun]</text>
<text transform="translate(386.1 270.4) rotate(-89.97) scale(1 1.07)" font-size="13.1" text-anchor="middle" fill="#000" stroke="#000" stroke-width="0.2">Er [10<tspan dy="-5.6" font-size="8.7">-5</tspan><tspan dy="5.6"> erg cm</tspan><tspan dy="-5.6" font-size="8.7">-3</tspan><tspan dy="5.6"> s</tspan><tspan dy="-5.6" font-size="8.7">-1</tspan><tspan dy="5.6">]</tspan></text>
<g clip-path="url(#c4)"><path d="M426.80 220.15L428.75 218.20L430.70 220.15L428.75 222.10Z" fill="none" stroke="#0000ff" stroke-width="1.0"/><path d="M453.35 244.40L455.30 242.45L457.25 244.40L455.30 246.35Z" fill="none" stroke="#0000ff" stroke-width="1.0"/><path d="M474.35 259.95L476.30 258.00L478.25 259.95L476.30 261.90Z" fill="none" stroke="#0000ff" stroke-width="1.0"/><path d="M486.40 252.45L488.35 250.50L490.30 252.45L488.35 254.40Z" fill="none" stroke="#0000ff" stroke-width="1.0"/><path d="M498.45 267.10L500.40 265.15L502.35 267.10L500.40 269.05Z" fill="none" stroke="#0000ff" stroke-width="1.0"/><path d="M518.60 281.60L520.55 279.65L522.50 281.60L520.55 283.55Z" fill="none" stroke="#0000ff" stroke-width="1.0"/><path d="M543.15 291.25L545.10 289.30L547.05 291.25L545.10 293.20Z" fill="none" stroke="#0000ff" stroke-width="1.0"/><path d="M559.55 299.70L561.50 297.75L563.45 299.70L561.50 301.65Z" fill="none" stroke="#0000ff" stroke-width="1.0"/><path d="M571.60 299.55L573.55 297.60L575.50 299.55L573.55 301.50Z" fill="none" stroke="#0000ff" stroke-width="1.0"/><path d="M591.75 305.60L593.70 303.65L595.65 305.60L593.70 307.55Z" fill="none" stroke="#0000ff" stroke-width="1.0"/><path d="M614.40 310.50L616.35 308.55L618.30 310.50L616.35 312.45Z" fill="none" stroke="#0000ff" stroke-width="1.0"/><path d="M628.35 311.50L630.30 309.55L632.25 311.50L630.30 313.45Z" fill="none" stroke="#0000ff" stroke-width="1.0"/><path d="M644.30 313.55L646.25 311.60L648.20 313.55L646.25 315.50Z" fill="none" stroke="#0000ff" stroke-width="1.0"/><path d="M660.50 315.15L662.45 313.20L664.40 315.15L662.45 317.10Z" fill="none" stroke="#0000ff" stroke-width="1.0"/><path d="M671.45 316.55L673.40 314.60L675.35 316.55L673.40 318.50Z" fill="none" stroke="#0000ff" stroke-width="1.0"/><path d="M682.65 318.05L684.60 316.10L686.55 318.05L684.60 320.00Z" fill="none" stroke="#0000ff" stroke-width="1.0"/><path d="M426.80 252.80L428.75 250.85L430.70 252.80L428.75 254.75Z" fill="none" stroke="#ff0000" stroke-width="1.0"/><path d="M453.50 269.90L455.45 267.95L457.40 269.90L455.45 271.85Z" fill="none" stroke="#ff0000" stroke-width="1.0"/><path d="M471.05 281.75L473.00 279.80L474.95 281.75L473.00 283.70Z" fill="none" stroke="#ff0000" stroke-width="1.0"/><path d="M481.65 284.35L483.60 282.40L485.55 284.35L483.60 286.30Z" fill="none" stroke="#ff0000" stroke-width="1.0"/><path d="M499.70 291.80L501.65 289.85L503.60 291.80L501.65 293.75Z" fill="none" stroke="#ff0000" stroke-width="1.0"/><path d="M512.30 296.80L514.25 294.85L516.20 296.80L514.25 298.75Z" fill="none" stroke="#ff0000" stroke-width="1.0"/><path d="M524.75 301.30L526.70 299.35L528.65 301.30L526.70 303.25Z" fill="none" stroke="#ff0000" stroke-width="1.0"/><path d="M538.95 305.95L540.90 304.00L542.85 305.95L540.90 307.90Z" fill="none" stroke="#ff0000" stroke-width="1.0"/><path d="M550.65 310.80L552.60 308.85L554.55 310.80L552.60 312.75Z" fill="none" stroke="#ff0000" stroke-width="1.0"/><path d="M570.60 312.55L572.55 310.60L574.50 312.55L572.55 314.50Z" fill="none" stroke="#ff0000" stroke-width="1.0"/><path d="M584.85 315.55L586.80 313.60L588.75 315.55L586.80 317.50Z" fill="none" stroke="#ff0000" stroke-width="1.0"/><path d="M595.90 319.70L597.85 317.75L599.80 319.70L597.85 321.65Z" fill="none" stroke="#ff0000" stroke-width="1.0"/><path d="M615.90 322.45L617.85 320.50L619.80 322.45L617.85 324.40Z" fill="none" stroke="#ff0000" stroke-width="1.0"/><path d="M627.60 324.10L629.55 322.15L631.50 324.10L629.55 326.05Z" fill="none" stroke="#ff0000" stroke-width="1.0"/><path d="M642.45 326.20L644.40 324.25L646.35 326.20L644.40 328.15Z" fill="none" stroke="#ff0000" stroke-width="1.0"/><path d="M665.65 327.10L667.60 325.15L669.55 327.10L667.60 329.05Z" fill="none" stroke="#ff0000" stroke-width="1.0"/><path d="M682.90 325.60L684.85 323.65L686.80 325.60L684.85 327.55Z" fill="none" stroke="#ff0000" stroke-width="1.0"/><path d="M688.80 321.05L690.75 319.10L692.70 321.05L690.75 323.00Z" fill="none" stroke="#ff0000" stroke-width="1.0"/></g>
<path d="M428.70 220.00L434.05 225.49L439.41 230.59L444.76 235.33L450.11 239.75L455.47 243.87L460.82 247.71L466.17 251.32L471.52 254.71L476.88 257.92L482.23 260.98L487.58 263.91L492.94 266.74L498.29 269.46L503.64 272.08L509.00 274.61L514.35 277.04L519.70 279.38L525.06 281.63L530.41 283.79L535.76 285.88L541.11 287.88L546.47 289.81L551.82 291.67L557.17 293.45L562.53 295.17L567.88 296.82L573.23 298.41L578.59 299.94L583.94 301.40L589.29 302.81L594.64 304.16L600.00 305.45L605.35 306.68L610.70 307.86L616.06 308.99L621.41 310.07L626.76 311.09L632.12 312.07L637.47 313.00L642.82 313.88L648.18 314.72L653.53 315.51L658.88 316.26L664.23 316.97L669.59 317.64L674.94 318.27L680.29 318.86L685.65 319.42L691.00 319.94" fill="none" stroke="#262626" stroke-width="0.88" clip-path="url(#c4)"/>
<path d="M428.70 253.04L434.05 256.95L439.41 260.69L444.76 264.26L450.11 267.67L455.47 270.92L460.82 274.02L466.17 276.98L471.52 279.79L476.88 282.47L482.23 285.02L487.58 287.45L492.94 289.75L498.29 291.94L503.64 294.03L509.00 296.01L514.35 297.90L519.70 299.69L525.06 301.40L530.41 303.03L535.76 304.58L541.11 306.06L546.47 307.48L551.82 308.84L557.17 310.14L562.53 311.39L567.88 312.59L573.23 313.74L578.59 314.84L583.94 315.88L589.29 316.88L594.64 317.82L600.00 318.72L605.35 319.57L610.70 320.36L616.06 321.11L621.41 321.82L626.76 322.47L632.12 323.08L637.47 323.64L642.82 324.16L648.18 324.63L653.53 325.05L658.88 325.44L664.23 325.77L669.59 326.06L674.94 326.31L680.29 326.52L685.65 326.69L691.00 326.81" fill="none" stroke="#262626" stroke-width="0.88" clip-path="url(#c4)"/>
<text transform="translate(630.80 225.40) rotate(0.03) scale(1 1.07)" font-size="12.8" text-anchor="start" fill="#0000ff" stroke="#0000ff" stroke-width="0.35" >r</text><text transform="translate(635.10 219.40) rotate(0.03) scale(1 1.07)" font-size="8.7" text-anchor="start" fill="#0000ff" stroke="#0000ff" stroke-width="0.25" >2</text><text transform="translate(643.30 225.40) rotate(0.03) scale(1 1.07)" font-size="12.8" text-anchor="start" fill="#0000ff" stroke="#0000ff" stroke-width="0.35" >=</text><text transform="translate(662.70 225.40) rotate(0.03) scale(1 1.07)" font-size="12.8" text-anchor="start" fill="#000" stroke="#000" stroke-width="0.12" >0.97</text>
<text transform="translate(630.80 244.50) rotate(0.03) scale(1 1.07)" font-size="12.8" text-anchor="start" fill="#ff0000" stroke="#ff0000" stroke-width="0.35" >r</text><text transform="translate(635.10 238.50) rotate(0.03) scale(1 1.07)" font-size="8.7" text-anchor="start" fill="#ff0000" stroke="#ff0000" stroke-width="0.25" >2</text><text transform="translate(643.30 244.50) rotate(0.03) scale(1 1.07)" font-size="12.8" text-anchor="start" fill="#ff0000" stroke="#ff0000" stroke-width="0.35" >=</text><text transform="translate(662.70 244.50) rotate(0.03) scale(1 1.07)" font-size="12.8" text-anchor="start" fill="#000" stroke="#000" stroke-width="0.12" >0.98</text>
</g>
</svg>
</body></html>
